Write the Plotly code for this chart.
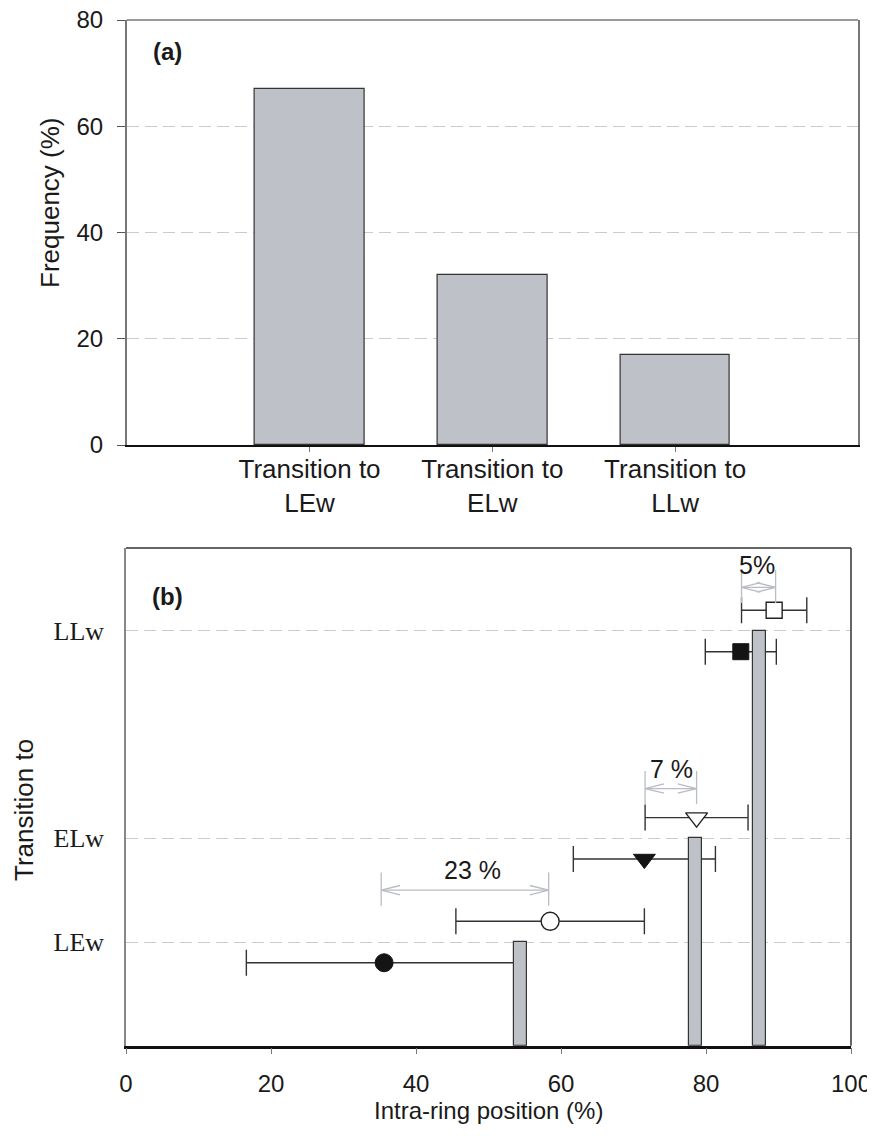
import plotly.graph_objects as go

# ---------------- data ----------------
# panel (a)
freq_categories = ["Transition to<br>LEw", "Transition to<br>ELw", "Transition to<br>LLw"]
freq_positions = [1, 2, 3]
freq_values = [67, 32, 17]

# panel (b)
level_labels = ["LEw", "ELw", "LLw"]
level_values = [1, 2, 4]
bar_positions = [54.4, 78.5, 87.4]          # intra-ring position of the transition bars

filled_x = [35.6, 71.5, 84.8]
filled_err = [19.0, 9.8, 4.9]
filled_y = [0.8, 1.8, 3.8]
filled_symbols = ["circle", "triangle-down", "square"]

open_x = [58.5, 78.7, 89.4]
open_err = [13.0, 7.1, 4.5]
open_y = [1.2, 2.2, 4.2]
open_symbols = ["circle-open", "triangle-down-open", "square-open"]

shift_start = [35.2, 71.6, 84.9]
shift_end = [58.3, 78.7, 89.6]
shift_y = [1.5, 2.48, 4.42]
shift_labels = ["23 %", "7 %", "5%"]
shift_label_x = [47.8, 75.3, 87.0]
shift_label_y = [1.69, 2.67, 4.64]

# ---------------- styling ----------------
PAGE_MARGIN = 8            # default body margin of the html page
W, H = 875 - PAGE_MARGIN, 1136 - 2 * PAGE_MARGIN
SANS = "Liberation Sans, Arial, sans-serif"
SERIF = "Liberation Serif, Times New Roman, serif"
TXT = "#1a1a1a"
BAR_FILL = "rgb(191,193,200)"
GRID = "#c9cbd0"
ARROW = "#b9bcc4"

def px_x(x):
    return (x - PAGE_MARGIN) / W

def px_y(y):
    return 1 - (y - PAGE_MARGIN) / H

A_X = [px_x(126.7), px_x(858)]
A_Y = [px_y(445), px_y(20)]
B_X = [px_x(126), px_x(851)]
B_Y = [px_y(1045.7), px_y(548)]

fig = go.Figure()

# ---- panel (a) bars ----
fig.add_trace(go.Bar(
    x=freq_positions, y=freq_values, width=0.6,
    marker=dict(color=BAR_FILL, line=dict(color="#333", width=1.2)),
    xaxis="x", yaxis="y", showlegend=False, hoverinfo="skip"))

# ---- panel (b) markers with error bars ----
sizes = {"circle": 18, "triangle-down": 19, "square": 16}
for i in range(3):
    fig.add_trace(go.Scatter(
        x=[filled_x[i]], y=[filled_y[i]], mode="markers",
        marker=dict(symbol=filled_symbols[i], size=sizes[filled_symbols[i]],
                    color="#141414", line=dict(color="#141414", width=1)),
        error_x=dict(type="data", array=[filled_err[i]], color="#333", thickness=1.4, width=13),
        xaxis="x2", yaxis="y2", showlegend=False, hoverinfo="skip"))
    base = open_symbols[i].replace("-open", "")
    fig.add_trace(go.Scatter(
        x=[open_x[i]], y=[open_y[i]], mode="markers",
        marker=dict(symbol=base, size=sizes[base],
                    color="white", line=dict(color="#222", width=1.4)),
        error_x=dict(type="data", array=[open_err[i]], color="#333", thickness=1.4, width=13),
        xaxis="x2", yaxis="y2", showlegend=False, hoverinfo="skip"))

# ---- panel (b) shift dimension arrows ----
HEAD_DX = 2.6     # arrow-head length in x units
HEAD_DY = 0.045   # arrow-head half height in y units
EXT_UP = 0.17
EXT_DN = 0.15
for i in range(3):
    x0, x1, y = shift_start[i], shift_end[i], shift_y[i]
    xs = [x0, x1, None,
          x0 + HEAD_DX, x0, x0 + HEAD_DX, None,
          x1 - HEAD_DX, x1, x1 - HEAD_DX, None,
          x0, x0, None, x1, x1]
    ys = [y, y, None,
          y + HEAD_DY, y, y - HEAD_DY, None,
          y + HEAD_DY, y, y - HEAD_DY, None,
          y + EXT_UP, y - EXT_DN, None, y + EXT_UP, y - EXT_DN]
    fig.add_trace(go.Scatter(x=xs, y=ys, mode="lines",
                             line=dict(color=ARROW, width=1.3),
                             xaxis="x2", yaxis="y2", showlegend=False, hoverinfo="skip"))
    fig.add_annotation(x=shift_label_x[i], y=shift_label_y[i], xref="x2", yref="y2",
                       text=shift_labels[i], showarrow=False, xanchor="center", yanchor="middle",
                       font=dict(family=SANS, size=25, color=TXT))

# ---- panel (b) bars, on an overlay so they cover the whiskers ----
fig.add_trace(go.Bar(
    x=bar_positions, y=level_values, width=1.8,
    marker=dict(color=BAR_FILL, line=dict(color="#333", width=1.2)),
    xaxis="x3", yaxis="y3", showlegend=False, hoverinfo="skip"))

# ---------------- layout ----------------
fig.update_layout(
    width=W, height=H, margin=dict(l=0, r=0, t=0, b=0, pad=0, autoexpand=False),
    paper_bgcolor="white", plot_bgcolor="white",
    bargap=0, showlegend=False,
    font=dict(family=SANS, color=TXT),
    xaxis=dict(domain=A_X, range=[0, 4], tickvals=freq_positions, ticktext=freq_categories,
               ticks="outside", ticklen=5, tickcolor="#777", tickwidth=1.2,
               tickfont=dict(family=SANS, size=26, color=TXT), ticklabelstandoff=-5,
               showgrid=False, zeroline=False, showline=True, linecolor="#111", linewidth=2,
               anchor="y", fixedrange=True, automargin=False),
    yaxis=dict(domain=A_Y, range=[0, 80], tickvals=[0, 20, 40, 60, 80],
               ticks="outside", ticklen=8, tickcolor="#555", tickwidth=1.2,
               tickfont=dict(family=SANS, size=24, color=TXT), ticklabelstandoff=9,
               ticklabeloverflow="allow",
               showgrid=True, gridcolor=GRID, griddash="12px,6px", gridwidth=1,
               zeroline=False, showline=True, linecolor="#777", linewidth=1.5, mirror=True,
               anchor="x", fixedrange=True, automargin=False),
    xaxis2=dict(domain=B_X, range=[0, 100], tickvals=[0, 20, 40, 60, 80, 100],
                ticks="outside", ticklen=6, tickcolor="#777", tickwidth=1.2,
                tickfont=dict(family=SANS, size=24, color=TXT), ticklabelstandoff=9,
                ticklabeloverflow="allow",
                showgrid=False, zeroline=False, showline=True, linecolor="#111", linewidth=2.5,
                anchor="y2", fixedrange=True, automargin=False),
    yaxis2=dict(domain=B_Y, range=[0, 4.8], tickvals=level_values, ticktext=level_labels,
                ticks="", tickfont=dict(family=SERIF, size=26, color=TXT), ticklabelstandoff=15,
                showgrid=True, gridcolor=GRID, griddash="12px,6px", gridwidth=1,
                zeroline=False, showline=True, linecolor="#888", linewidth=1.5,
                anchor="x2", fixedrange=True, automargin=False),
    xaxis3=dict(domain=B_X, range=[0, 100], overlaying="x2", visible=False, anchor="y3",
                fixedrange=True, automargin=False),
    yaxis3=dict(domain=B_Y, range=[0, 4.8], overlaying="y2", visible=False, anchor="x3",
                fixedrange=True, automargin=False),
)

# frame lines not covered by axis lines
fig.add_shape(type="line", xref="paper", yref="paper", x0=A_X[0], x1=A_X[1], y0=A_Y[1], y1=A_Y[1],
              line=dict(color="#777", width=1.5))
fig.add_shape(type="line", xref="paper", yref="paper", x0=B_X[0], x1=B_X[1], y0=B_Y[1], y1=B_Y[1],
              line=dict(color="#333", width=1.5))
fig.add_shape(type="line", xref="paper", yref="paper", x0=B_X[1], x1=B_X[1], y0=B_Y[0], y1=B_Y[1],
              line=dict(color="#333", width=1.5))

# panel labels and axis titles
def label(x, y, text, size=24, angle=0):
    fig.add_annotation(x=px_x(x), y=px_y(y), xref="paper", yref="paper", text=text,
                       textangle=angle, showarrow=False, xanchor="center", yanchor="middle",
                       font=dict(family=SANS, size=size, color=TXT))

label(167, 52, "<b>(a)</b>")
label(167, 596, "<b>(b)</b>")
label(50, 203, "Frequency (%)", size=26, angle=-90)
label(24, 810, "Transition to", size=26, angle=-90)
label(488, 1110, "Intra-ring position (%)")

fig.write_html("out.html")
